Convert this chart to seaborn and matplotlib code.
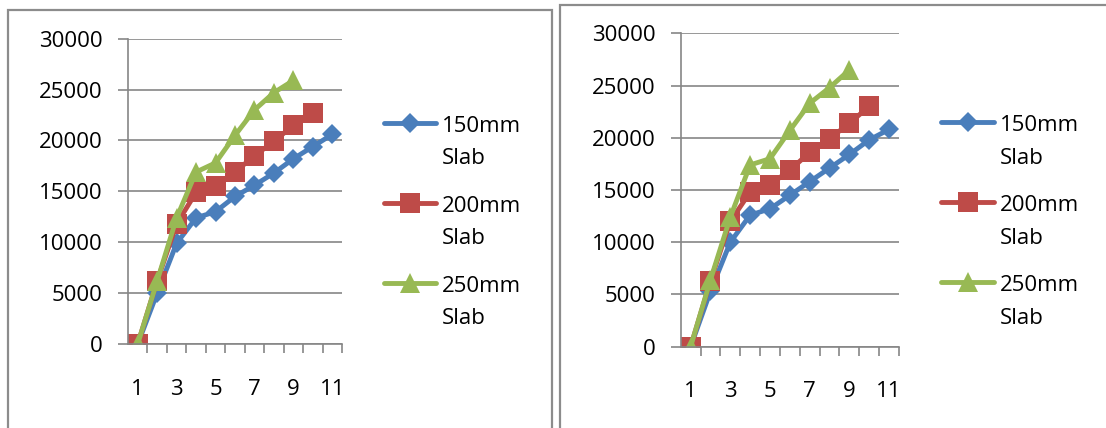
import numpy as np
import pandas as pd
import matplotlib
matplotlib.use("Agg")
import matplotlib.pyplot as plt
from matplotlib.lines import Line2D
from matplotlib.patches import Rectangle
import seaborn as sns

# Load step numbers (x) and cumulative values for each slab thickness
steps = list(range(1, 12))
series_names = ["150mm Slab", "200mm Slab", "250mm Slab"]

left_150 = [0, 5000, 9900, 12400, 13000, 14500, 15600, 16800, 18200, 19400, 20600]
left_200 = [0, 6200, 11800, 14900, 15500, 16900, 18500, 19900, 21500, 22700]
left_250 = [0, 6200, 12400, 16900, 17800, 20500, 23000, 24700, 25900]

right_150 = [0, 5300, 10000, 12600, 13200, 14500, 15800, 17100, 18400, 19800, 20800]
right_200 = [0, 6300, 12000, 14800, 15500, 16900, 18600, 19900, 21400, 23000]
right_250 = [0, 6400, 12400, 17400, 18000, 20700, 23300, 24800, 26500]

y_ticks = [0, 5000, 10000, 15000, 20000, 25000, 30000]
x_tick_labels = [1, 3, 5, 7, 9, 11]

colors = ["#4A7EBB", "#BE4B48", "#98B954"]
markers = ["D", "s", "^"]
marker_sizes = [10.5, 14.5, 14.5]

sns.set_style("white")
plt.rcParams["font.family"] = ["Open Sans", "DejaVu Sans"]
plt.rcParams["text.color"] = "black"
plt.rcParams["xtick.labelcolor"] = "black"
plt.rcParams["ytick.labelcolor"] = "black"

W, H = 1106, 428
fig = plt.figure(figsize=(W / 100, H / 100), dpi=100)

GRID = "#868686"
FS = 16


def fx(x):
    return x / W


def fy(y):
    return 1 - y / H


def px_axes(x0, x1, ytop, ybot):
    return fig.add_axes([fx(x0), fy(ybot), (x1 - x0) / W, (ybot - ytop) / H])


def draw_legend(ax, x0, x1, xtext, y_first, step=80, line_gap=32.5):
    """Key beside the plot: a line with a centred marker, and a two-line label."""
    for i, line in enumerate(ax.lines[:len(series_names)]):
        yc = y_first + i * step
        key = Line2D([fx(x0), fx((x0 + x1) / 2), fx(x1)], [fy(yc)] * 3,
                     transform=fig.transFigure, color=line.get_color(),
                     linewidth=line.get_linewidth(), solid_capstyle="round",
                     marker=line.get_marker(), markersize=line.get_markersize(),
                     markeredgewidth=0, markevery=[1])
        fig.add_artist(key)
        first, second = line.get_label().split(" ", 1)
        base = yc + 9
        fig.text(fx(xtext), fy(base), first, fontsize=FS, va="baseline", ha="left",
                 color="black")
        fig.text(fx(xtext), fy(base + line_gap), second, fontsize=FS, va="baseline",
                 ha="left", color="black")


def draw_panel(ax, values):
    frames = []
    for name, vals in zip(series_names, values):
        frames.append(pd.DataFrame({"step": steps[:len(vals)], "value": vals, "series": name}))
    df = pd.concat(frames, ignore_index=True)

    for name, col, mk, ms in zip(series_names, colors, markers, marker_sizes):
        sub = df[df["series"] == name]
        sns.lineplot(data=sub, x="step", y="value", ax=ax, color=col, marker=mk,
                     markersize=ms, markeredgewidth=0, linewidth=3.5, label=name,
                     sort=False, errorbar=None, legend=False)

    ax.set_xlim(0.5, 11.5)
    ax.set_ylim(0, 30000)
    ax.set_xlabel("")
    ax.set_ylabel("")
    ax.set_yticks(y_ticks)
    ax.set_yticklabels([str(v) for v in y_ticks])
    ax.set_xticks(x_tick_labels)
    ax.set_xticklabels([str(v) for v in x_tick_labels])
    ax.set_xticks(np.arange(1.5, 11.6, 1.0), minor=True)

    ax.yaxis.grid(True, color=GRID, linewidth=1.2)
    ax.xaxis.grid(False)
    ax.set_axisbelow(True)
    for side in ["top", "right"]:
        ax.spines[side].set_visible(False)
    for side in ["left", "bottom"]:
        ax.spines[side].set_color(GRID)
        ax.spines[side].set_linewidth(1.2)

    ax.tick_params(axis="y", which="major", length=7.2, width=1.2, color=GRID,
                   pad=11, labelsize=FS, labelcolor="black", left=True)
    ax.tick_params(axis="x", which="major", length=0, pad=25, labelsize=FS,
                   labelcolor="black", bottom=True)
    ax.tick_params(axis="x", which="minor", length=6.5, width=1.2, color=GRID,
                   direction="out", bottom=True)


ax_left = px_axes(128, 342, 38.7, 344)
ax_right = px_axes(680.7, 899, 33.3, 346.7)
draw_panel(ax_left, [left_150, left_200, left_250])
draw_panel(ax_right, [right_150, right_200, right_250])
draw_legend(ax_left, 383.5, 436, 442, 122.7)
draw_legend(ax_right, 941, 994, 999.5, 122.3)

# Chart-area borders around each panel
for (x0, y0, x1, y1) in [(7.5, 10, 551.5, 440), (559.5, 5, 1115, 440)]:
    fig.patches.append(Rectangle((fx(x0), fy(y1)), (x1 - x0) / W, (y1 - y0) / H,
                                 transform=fig.transFigure, fill=False,
                                 edgecolor="#8C8C8C", linewidth=1.6))

fig.savefig("out.png", dpi=100)
